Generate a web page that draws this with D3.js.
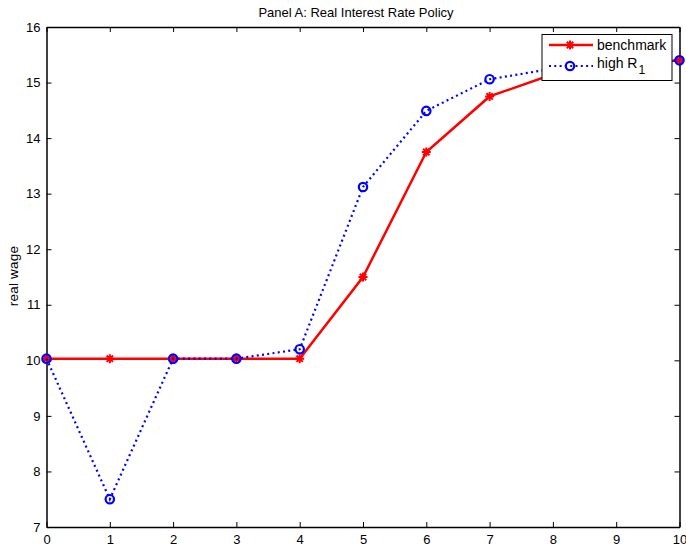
<!DOCTYPE html>
<html>
<head>
<meta charset="utf-8">
<script src="https://cdn.jsdelivr.net/npm/d3@7"></script>
<style>
  body { margin: 0; background: #fff; }
  svg { display: block; font-family: "Liberation Sans", Arial, sans-serif; }
</style>
</head>
<body>
<svg id="chart" width="686" height="547"></svg>
<script>
// Periods on the horizontal axis
const periods = [0, 1, 2, 3, 4, 5, 6, 7, 8, 9, 10];
// Real wage path under the benchmark policy
const benchmark = [10.03, 10.03, 10.03, 10.03, 10.03, 11.5, 13.75, 14.75, 15.15, 15.3, 15.4];
// Real wage path with a high R1
const highR1 = [10.03, 7.5, 10.03, 10.03, 10.2, 13.12, 14.49, 15.06, 15.25, 15.35, 15.4];
const xTicks = [0, 1, 2, 3, 4, 5, 6, 7, 8, 9, 10];
const yTicks = [7, 8, 9, 10, 11, 12, 13, 14, 15, 16];

const svg = d3.select("#chart");
const plotLeft = 46.5, plotRight = 679.5, plotTop = 27, plotBottom = 527;

const x = d3.scaleLinear().domain([0, 10]).range([plotLeft, plotRight]);
const y = d3.scaleLinear().domain([7, 16]).range([plotBottom, plotTop]);

// Axes with inward ticks on all four sides
const tickLen = 5;
const fontSize = "13px";
const gx = svg.append("g").attr("transform", `translate(0,${plotBottom})`)
  .call(d3.axisBottom(x).tickValues(xTicks).tickSizeInner(-tickLen).tickSizeOuter(0).tickPadding(8).tickFormat(d3.format("d")));
const gxTop = svg.append("g").attr("transform", `translate(0,${plotTop})`)
  .call(d3.axisTop(x).tickValues(xTicks).tickSizeInner(-tickLen).tickSizeOuter(0).tickFormat(""));
const gy = svg.append("g").attr("transform", `translate(${plotLeft},0)`)
  .call(d3.axisLeft(y).tickValues(yTicks).tickSizeInner(-tickLen).tickSizeOuter(0).tickPadding(6).tickFormat(d3.format("d")));
const gyRight = svg.append("g").attr("transform", `translate(${plotRight},0)`)
  .call(d3.axisRight(y).tickValues(yTicks).tickSizeInner(-tickLen).tickSizeOuter(0).tickFormat(""));

[gx, gxTop, gy, gyRight].forEach(g => {
  g.selectAll(".domain").attr("stroke", "#000").attr("stroke-width", 1.5);
  g.selectAll(".tick line").attr("stroke", "#000").attr("stroke-width", 1);
  g.selectAll("text").attr("font-size", fontSize).attr("fill", "#000")
    .attr("font-family", "'Liberation Sans', Arial, sans-serif");
});
gx.selectAll("text").attr("dy", "0.71em");

// Title and axis label
svg.append("text").attr("x", 356).attr("y", 17)
  .attr("text-anchor", "middle").attr("font-size", "13px")
  .text("Panel A: Real Interest Rate Policy");
svg.append("text").attr("transform", `translate(18,${(plotTop + plotBottom) / 2 - 1}) rotate(-90)`)
  .attr("text-anchor", "middle").attr("font-size", "13.5px").attr("letter-spacing", "0.2px")
  .text("real wage");

const line = d3.line().x((d, i) => x(periods[i])).y(d => y(d));

// Asterisk marker path
function starPath(cx, cy, r) {
  const d = r * Math.SQRT1_2;
  return `M${cx - r},${cy}L${cx + r},${cy}M${cx},${cy - r}L${cx},${cy + r}` +
         `M${cx - d},${cy - d}L${cx + d},${cy + d}M${cx - d},${cy + d}L${cx + d},${cy - d}`;
}

const plot = svg.append("g");

// Benchmark series
plot.append("path").datum(benchmark).attr("d", line)
  .attr("fill", "none").attr("stroke", "#ff0000").attr("stroke-width", 2.5);
plot.selectAll(".star").data(benchmark).enter().append("path")
  .attr("d", (d, i) => starPath(x(periods[i]), y(d), 4.5))
  .attr("stroke", "#ff0000").attr("stroke-width", 2).attr("fill", "none");

// High R1 series
plot.append("path").datum(highR1).attr("d", line)
  .attr("fill", "none").attr("stroke", "#0000ff").attr("stroke-width", 2.2)
  .attr("stroke-dasharray", "2,3.3");
plot.selectAll(".circ").data(highR1).enter().append("circle")
  .attr("cx", (d, i) => x(periods[i])).attr("cy", d => y(d)).attr("r", 4.2)
  .attr("fill", "none").attr("stroke", "#0000ff").attr("stroke-width", 2.2);

// Legend
const lg = svg.append("g");
lg.append("rect").attr("x", 542).attr("y", 34.5).attr("width", 130).attr("height", 46)
  .attr("fill", "#fff").attr("stroke", "#000").attr("stroke-width", 1);
lg.append("line").attr("x1", 549).attr("x2", 593).attr("y1", 45).attr("y2", 45)
  .attr("stroke", "#ff0000").attr("stroke-width", 2.5);
lg.append("path").attr("d", starPath(570, 45, 4.5)).attr("stroke", "#ff0000").attr("stroke-width", 2);
lg.append("text").attr("x", 597).attr("y", 50).attr("font-size", "14px").text("benchmark");
lg.append("line").attr("x1", 549).attr("x2", 593).attr("y1", 66).attr("y2", 66)
  .attr("stroke", "#0000ff").attr("stroke-width", 2.2).attr("stroke-dasharray", "2,3.3");
lg.append("circle").attr("cx", 570).attr("cy", 66).attr("r", 4.2)
  .attr("fill", "none").attr("stroke", "#0000ff").attr("stroke-width", 2.2);
const t2 = lg.append("text").attr("x", 597).attr("y", 68).attr("font-size", "14px");
t2.append("tspan").text("high R");
t2.append("tspan").attr("dy", 6).attr("dx", 1).attr("font-size", "12px").text("1");
</script>
</body>
</html>
